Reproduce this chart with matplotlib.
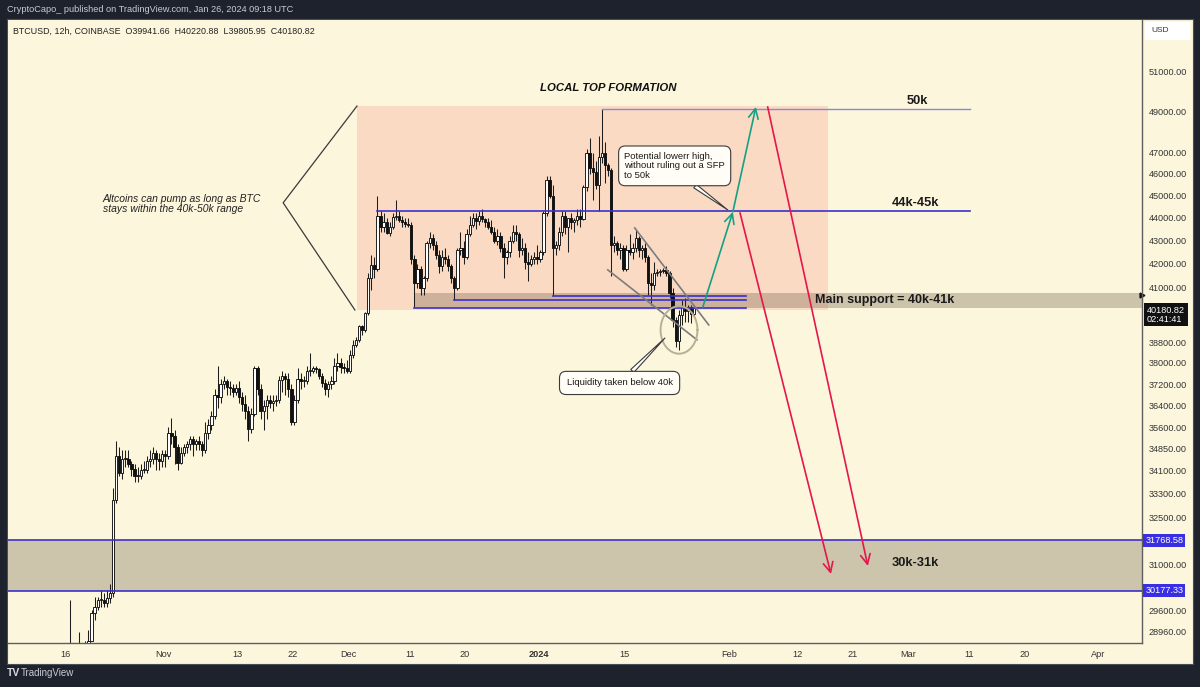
import matplotlib
matplotlib.use('Agg')
import matplotlib.pyplot as plt
import matplotlib.dates as mdates
from matplotlib.patches import Rectangle
from matplotlib.ticker import FixedLocator, NullLocator, FuncFormatter
import numpy as np
import pandas as pd

plt.rcParams['font.family'] = ['Liberation Sans', 'DejaVu Sans']

# BTCUSD 12h candles (thousands USD), 2023-10-16 00:00 .. 2024-01-26 00:00, two per day
opens = [
    # Oct 16 - 31
    27.15, 27.5, 28.5, 28.4, 28.4, 28.5, 28.3, 28.6, 28.7, 29.5, 29.7, 29.9, 29.9, 29.8, 29.95, 30.1,
    33.1, 34.6, 34.0, 34.5, 34.5, 34.3, 34.15, 33.9, 33.9, 34.1, 34.1, 34.4, 34.5, 34.7, 34.5, 34.4,
    # Nov
    34.65, 34.6, 35.4, 35.3, 34.9, 34.35, 34.7, 34.9, 35.0, 35.2, 35.0, 35.1, 35.0, 34.8, 35.4, 35.7,
    36.0, 36.8, 36.7, 37.2, 37.3, 37.1, 37.05, 36.9, 37.05, 36.7, 36.45, 36.2, 35.55, 36.1, 37.8, 37.0,
    36.2, 36.4, 36.6, 36.5, 36.55, 36.6, 37.35, 37.5, 37.4, 37.0, 35.8, 36.6, 37.4, 37.3, 37.3, 37.7,
    37.7, 37.8, 37.75, 37.5, 37.25, 37.0, 37.2, 37.3, 37.9, 38.0, 37.85, 37.8,
    # Dec
    37.7, 38.3, 38.7, 38.9, 39.45, 39.3, 39.95, 41.4, 41.95, 41.8, 44.1, 43.6, 43.8, 43.35, 43.6, 44.05,
    44.1, 43.9, 43.8, 43.75, 43.7, 42.2, 41.2, 41.8, 41.0, 41.4, 42.9, 43.1, 42.8, 42.4, 41.9, 42.3,
    42.2, 41.9, 41.4, 41.0, 42.6, 42.7, 42.3, 43.3, 43.7, 44.0, 43.85, 44.1, 43.95, 43.8, 43.6, 43.4,
    43.0, 43.2, 42.7, 42.3, 42.5, 43.0, 43.4, 43.3, 42.6, 42.7, 42.1, 42.0, 42.2, 42.3,
    # Jan
    42.2, 42.5, 44.2, 45.7, 45.0, 42.7, 42.8, 43.4, 44.1, 43.6, 44.0, 43.8, 43.9, 44.1, 43.95, 45.4,
    47.0, 46.3, 46.1, 45.5, 46.8, 47.0, 46.4, 46.2, 42.8, 42.9, 42.6, 42.7, 41.8, 42.6, 42.5, 42.7,
    43.1, 42.6, 42.7, 42.3, 41.2, 41.1, 41.6, 41.65, 41.7, 41.75, 41.6, 40.8, 39.7, 38.85, 39.9, 40.2,
    40.05, 40.2, 39.94166,
]
highs = [
    27.6, 29.9, 28.6, 28.6, 28.95, 28.6, 28.7, 29.0, 29.6, 30.0, 30.0, 30.2, 30.1, 30.2, 30.4, 33.5,
    35.1, 34.9, 34.8, 34.8, 34.8, 34.4, 34.3, 34.2, 34.3, 34.4, 34.6, 34.8, 34.9, 34.8, 34.7, 34.8,
    34.8, 35.6, 35.95, 35.5, 35.0, 34.9, 35.0, 35.1, 35.3, 35.3, 35.2, 35.3, 35.1, 35.8, 35.9, 36.2,
    37.0, 37.9, 37.4, 37.5, 37.4, 37.3, 37.2, 37.2, 37.3, 36.9, 36.8, 36.4, 36.3, 37.9, 37.9, 37.2,
    36.6, 36.8, 36.8, 36.8, 36.8, 37.5, 37.7, 37.6, 37.6, 37.2, 36.8, 37.8, 37.6, 37.5, 37.9, 38.4,
    37.9, 37.9, 37.8, 37.6, 37.4, 37.3, 37.5, 38.2, 38.4, 38.2, 38.0, 38.1,
    38.5, 38.9, 39.0, 39.5, 39.5, 40.0, 41.6, 42.4, 42.3, 45.0, 44.3, 44.2, 44.0, 43.8, 44.2, 44.8,
    44.3, 44.1, 44.0, 44.0, 43.8, 42.4, 42.0, 41.9, 41.5, 43.0, 43.4, 43.3, 43.0, 42.6, 42.6, 42.7,
    42.4, 42.0, 41.5, 42.7, 43.4, 43.0, 43.5, 44.1, 44.2, 44.2, 44.3, 44.4, 44.0, 44.0, 43.9, 43.6,
    43.5, 43.4, 42.9, 42.6, 43.2, 43.7, 43.7, 43.4, 43.1, 42.9, 42.5, 42.4, 42.5, 42.8,
    42.6, 44.3, 45.9, 45.9, 45.5, 43.0, 43.6, 44.3, 44.3, 44.0, 44.2, 44.0, 44.4, 44.4, 45.5, 47.2,
    47.7, 47.0, 46.6, 47.8, 49.1, 47.5, 46.5, 46.3, 43.2, 43.0, 42.9, 42.8, 42.8, 43.3, 42.9, 43.5,
    43.2, 42.8, 42.9, 42.4, 41.6, 42.1, 41.8, 41.8, 41.85, 41.9, 41.7, 41.0, 39.8, 40.1, 40.5, 40.6,
    40.3, 40.3, 40.22088,
]
lows = [
    27.1, 27.4, 28.1, 28.2, 28.3, 28.1, 28.2, 28.5, 28.7, 29.3, 29.6, 29.7, 29.7, 29.7, 29.8, 30.0,
    33.0, 33.9, 33.8, 34.2, 34.2, 33.9, 33.7, 33.7, 33.8, 34.0, 34.0, 34.2, 34.3, 34.1, 34.1, 34.2,
    34.2, 34.5, 35.0, 34.3, 34.1, 34.3, 34.6, 34.7, 34.8, 34.6, 34.8, 34.8, 34.6, 34.7, 35.2, 35.5,
    35.9, 36.3, 36.5, 37.0, 36.8, 36.8, 36.7, 36.8, 36.5, 36.2, 35.9, 35.1, 35.4, 36.0, 36.8, 35.9,
    35.5, 35.9, 36.3, 36.2, 36.4, 36.5, 36.9, 36.8, 36.7, 35.7, 35.7, 36.5, 37.0, 37.1, 37.2, 37.5,
    37.6, 37.6, 37.4, 37.1, 36.8, 36.7, 37.0, 37.2, 37.7, 37.6, 37.6, 37.6,
    37.6, 38.2, 38.6, 38.8, 39.1, 39.2, 39.9, 40.9, 41.4, 41.7, 43.4, 43.4, 43.3, 43.2, 43.5, 43.9,
    43.8, 43.6, 43.6, 43.6, 42.0, 40.2, 41.0, 40.7, 40.7, 41.3, 42.7, 42.6, 42.2, 41.6, 41.7, 42.0,
    41.7, 41.2, 40.5, 40.9, 42.4, 42.0, 42.2, 43.2, 43.6, 43.5, 43.7, 43.8, 43.6, 43.5, 43.3, 42.9,
    42.8, 42.5, 41.4, 42.0, 42.3, 42.9, 43.0, 42.3, 42.4, 41.8, 41.3, 41.9, 42.0, 42.0,
    42.1, 42.4, 44.1, 44.9, 40.65, 42.4, 42.6, 43.2, 43.3, 42.5, 43.5, 43.4, 43.7, 43.6, 43.9, 45.2,
    46.0, 44.8, 45.3, 44.3, 46.5, 45.6, 45.9, 41.5, 42.5, 42.4, 42.2, 41.7, 41.7, 42.4, 42.2, 42.5,
    42.3, 42.2, 42.1, 40.7, 40.3, 40.9, 41.5, 41.5, 41.6, 41.5, 40.6, 39.4, 38.6, 38.5, 39.5, 39.6,
    39.6, 39.55, 39.80595,
]
closes = [
    27.5, 28.5, 28.4, 28.4, 28.5, 28.3, 28.6, 28.7, 29.5, 29.7, 29.9, 29.9, 29.8, 29.95, 30.1, 33.1,
    34.6, 34.0, 34.5, 34.5, 34.3, 34.15, 33.9, 33.9, 34.1, 34.1, 34.4, 34.5, 34.7, 34.5, 34.4, 34.65,
    34.6, 35.4, 35.3, 34.9, 34.35, 34.7, 34.9, 35.0, 35.2, 35.0, 35.1, 35.0, 34.8, 35.4, 35.7, 36.0,
    36.8, 36.7, 37.2, 37.3, 37.1, 37.05, 36.9, 37.05, 36.7, 36.45, 36.2, 35.55, 36.1, 37.8, 37.0, 36.2,
    36.4, 36.6, 36.5, 36.55, 36.6, 37.35, 37.5, 37.4, 37.0, 35.8, 36.6, 37.4, 37.3, 37.3, 37.7, 37.7,
    37.8, 37.75, 37.5, 37.25, 37.0, 37.2, 37.3, 37.9, 38.0, 37.85, 37.8, 37.7,
    38.3, 38.7, 38.9, 39.45, 39.3, 39.95, 41.4, 41.95, 41.8, 44.1, 43.6, 43.8, 43.35, 43.6, 44.05, 44.1,
    43.9, 43.8, 43.75, 43.7, 42.2, 41.2, 41.8, 41.0, 41.4, 42.9, 43.1, 42.8, 42.4, 41.9, 42.3, 42.2,
    41.9, 41.4, 41.0, 42.6, 42.7, 42.3, 43.3, 43.7, 44.0, 43.85, 44.1, 43.95, 43.8, 43.6, 43.4, 43.0,
    43.2, 42.7, 42.3, 42.5, 43.0, 43.4, 43.3, 42.6, 42.7, 42.1, 42.0, 42.2, 42.3, 42.2,
    42.5, 44.2, 45.7, 45.0, 42.7, 42.8, 43.4, 44.1, 43.6, 44.0, 43.8, 43.9, 44.1, 43.95, 45.4, 47.0,
    46.3, 46.1, 45.5, 46.8, 47.0, 46.4, 46.2, 42.8, 42.9, 42.6, 42.7, 41.8, 42.6, 42.5, 42.7, 43.1,
    42.6, 42.7, 42.3, 41.2, 41.1, 41.6, 41.65, 41.7, 41.75, 41.6, 40.8, 39.7, 38.85, 39.9, 40.2, 40.05,
    40.2, 39.94, 40.18082,
]

price_ticks = [51000, 49000, 47000, 46000, 45000, 44000, 43000, 42000, 41000, 38800, 38000,
               37200, 36400, 35600, 34850, 34100, 33300, 32500, 31000, 29600, 28960]
date_ticks = ['2023-10-16', '2023-11-01', '2023-11-13', '2023-11-22', '2023-12-01', '2023-12-11',
              '2023-12-20', '2024-01-01', '2024-01-15', '2024-02-01', '2024-02-12', '2024-02-21',
              '2024-03-01', '2024-03-11', '2024-03-20', '2024-04-01']
date_labels = ['16', 'Nov', '13', '22', 'Dec', '11', '20', '2024', '15', 'Feb', '12', '21',
               'Mar', '11', '20', 'Apr']

# drawn levels / zones (USD)
zone_low, zone_high = 30177.33, 31768.58
support_low, support_high = 40190, 40790
level_50k, level_44k = 49130, 44300
support_lines = [('2024-01-03 06:00', 40650), ('2023-12-18 06:00', 40500), ('2023-12-11 18:00', 40190)]

CREAM = '#fcf6dc'
BLUE = '#3b30c9'
RED = '#e3174b'
GREEN = '#15a083'
DARK = '#1e222d'


def d(s):
    return mdates.date2num(pd.Timestamp(s))


times = pd.date_range('2023-10-16 06:00', periods=len(closes), freq='12h')
x = mdates.date2num(times)
o = np.array(opens) * 1000
h = np.array(highs) * 1000
l = np.array(lows) * 1000
c = np.array(closes) * 1000

fig = plt.figure(figsize=(12, 6.87), dpi=100, facecolor=DARK)
bg = fig.add_axes([7 / 1200, 23 / 687, 1186 / 1200, 645 / 687], zorder=-5)
bg.set_facecolor(CREAM)
bg.set_xticks([])
bg.set_yticks([])
for s in bg.spines.values():
    s.set_color('#4a4d57')
    s.set_linewidth(0.8)

ax = fig.add_axes([8 / 1200, 44 / 687, 1134 / 1200, 623 / 687])
ax.set_facecolor(CREAM)
ax.set_yscale('log')
xl, xr = d('2023-10-06 16:00'), d('2024-04-08 02:00')
ax.set_xlim(xl, xr)
ax.set_ylim(28630, 53750)

# zones
ax.add_patch(Rectangle((d('2023-12-02 10:00'), 40090), d('2024-02-17') - d('2023-12-02 10:00'),
                       49270 - 40090, fc='#fbd6bf', ec='none', alpha=0.85, zorder=0.5))
ax.axhspan(zone_low, zone_high, fc=(0.47, 0.43, 0.35, 0.36), ec='none', zorder=0.6)
ax.axhline(zone_low, color=BLUE, lw=1.2, zorder=4)
ax.axhline(zone_high, color=BLUE, lw=1.2, zorder=4)
ax.add_patch(Rectangle((d('2023-12-11 18:00'), support_low), xr - d('2023-12-11 18:00'),
                       support_high - support_low, fc=(0.47, 0.40, 0.32, 0.35), ec='none', zorder=0.6))

# candles
up = c >= o
ax.vlines(x, l, h, color='#1e1e1e', lw=0.75, zorder=2)
body_lo = np.minimum(o, c)
body_h = np.maximum(np.abs(c - o), c * 0.0009)
ax.bar(x, body_h, bottom=body_lo, width=0.38, color=np.where(up, '#ffffff', '#111111'),
       edgecolor='#111111', linewidth=0.65, zorder=3)

# levels
ax.plot([d('2024-01-11 06:00'), d('2024-03-11 02:00')], [level_50k, level_50k], color='#8d86d8', lw=1.0, zorder=4)
ax.plot([d('2023-12-05 18:00'), d('2024-03-11 02:00')], [level_44k, level_44k], color=BLUE, lw=1.2, zorder=4)
for start, p in support_lines:
    ax.plot([d(start), d('2024-02-03 17:00')], [p, p], color=BLUE, lw=1.2, zorder=4)

# text labels
lab = dict(fontsize=9.3, fontweight='bold', color='#1a1a1a', zorder=6)
ax.text(d('2024-03-02 14:00'), 49530, '50k', ha='center', va='center', **lab)
ax.text(d('2024-03-02 07:00'), 44680, '44k-45k', ha='center', va='center', **lab)
ax.text(d('2024-02-14 22:00'), 40480, 'Main support = 40k-41k', ha='left', va='center',
        fontsize=9, fontweight='bold', color='#1a1a1a', zorder=6)
ax.text(d('2024-03-02 07:00'), 31040, '30k-31k', ha='center', va='center', **lab)
ax.text(d('2024-01-12 05:00'), 50180, 'LOCAL TOP FORMATION', ha='center', va='center',
        fontsize=8.2, fontweight='bold', fontstyle='italic', color='#111111')
ax.text(d('2023-10-22 02:00'), 44630, 'Altcoins can pump as long as BTC\nstays within the 40k-50k range',
        ha='left', va='center', fontsize=7.5, fontstyle='italic', color='#222222', linespacing=1.0)

# chevron bracket
ax.plot([d('2023-12-02 10:00'), d('2023-11-20 10:00'), d('2023-12-02 02:00')], [49270, 44680, 40090],
        color='#3a3a3a', lw=0.9, zorder=4)

# descending channel
ax.plot([d('2024-01-16 14:00'), d('2024-01-28 15:00')], [43560, 39490], color='#7c7c7c', lw=1.2, zorder=4)
ax.plot([d('2024-01-12 05:00'), d('2024-01-26 17:00')], [41750, 38900], color='#7c7c7c', lw=1.2, zorder=4)

# ellipse round the wick
tt = np.linspace(0, 2 * np.pi, 120)
ax.plot(d('2024-01-23 19:00') + 3.0 * np.cos(tt), 39290 * np.exp(0.0240 * np.sin(tt)),
        color='#b8b096', lw=1.4, zorder=4)


# arrows
def arrow(p0, p1, color):
    ax.annotate('', xy=(d(p1[0]), p1[1]), xytext=(d(p0[0]), p0[1]),
                arrowprops=dict(arrowstyle='->,head_length=0.7,head_width=0.35', color=color, lw=1.2,
                                shrinkA=0, shrinkB=0), zorder=5)


arrow(('2024-01-27 16:00', 40210), ('2024-02-01 13:00', 44270), GREEN)
arrow(('2024-02-01 13:00', 44270), ('2024-02-05 07:00', 49230), GREEN)
arrow(('2024-02-02 17:00', 44230), ('2024-02-17 12:00', 30700), RED)
arrow(('2024-02-07 05:00', 49230), ('2024-02-23 12:00', 30950), RED)

# callouts
box = dict(boxstyle='round,pad=0.6,rounding_size=0.7', fc='#fffdf6', ec='#3a3a3a', lw=0.8)
wedge = dict(arrowstyle='wedge,tail_width=0.45,shrink_factor=0.5', fc='#fffdf6', ec='#3a3a3a', lw=0.8,
             shrinkA=0, shrinkB=0)
ax.annotate('Potential lowerr high,\nwithout ruling out a SFP\nto 50k', xy=(d('2024-01-31 17:00'), 44360),
            xytext=(d('2024-01-23 02:00'), 46380), ha='center', va='center', multialignment='left',
            fontsize=6.8, color='#1a1a1a', bbox=box, arrowprops=dict(wedge, relpos=(0.62, 0.0)),
            zorder=7, linespacing=1.1)
box2 = dict(box, boxstyle='round,pad=0.75,rounding_size=0.7')
ax.annotate('Liquidity taken below 40k', xy=(d('2024-01-21 12:00'), 38970),
            xytext=(d('2024-01-14 03:00'), 37240), ha='center', va='center',
            fontsize=6.8, color='#1a1a1a', bbox=box2, arrowprops=dict(wedge, relpos=(0.55, 1.0)), zorder=7)

# axes styling
for s in ('left', 'top'):
    ax.spines[s].set_visible(False)
for s in ('right', 'bottom'):
    ax.spines[s].set_color('#5e5e5e')
    ax.spines[s].set_linewidth(1.0)
ax.yaxis.tick_right()
ax.yaxis.set_major_locator(FixedLocator(price_ticks))
ax.yaxis.set_minor_locator(NullLocator())
ax.yaxis.set_major_formatter(FuncFormatter(lambda v, pos: f'{v:.2f}'))
ax.tick_params(axis='y', length=0, pad=5, labelsize=6.6, labelcolor='#333333')
ax.set_xticks([d(t) for t in date_ticks])
ax.set_xticklabels(date_labels)
ax.tick_params(axis='x', length=0, pad=5, labelsize=6.6, labelcolor='#333333')
ax.get_xticklabels()[date_labels.index('2024')].set_fontweight('bold')

# price-scale labels
ytr = ax.get_yaxis_transform()
for p, txt in [(zone_high, '31768.58'), (zone_low, '30177.33')]:
    ax.text(1.003, p, txt, transform=ytr, ha='left', va='center', fontsize=6.6, color='white',
            bbox=dict(boxstyle='square,pad=0.22', fc='#3a2fe0', ec='none'), clip_on=False, zorder=8)
ax.annotate('40180.82\n02:41:41', xy=(1.002, 40180.82), xycoords=ytr, xytext=(2, -5),
            textcoords='offset points', ha='left', va='center', fontsize=6.6, color='white',
            linespacing=1.05, bbox=dict(boxstyle='square,pad=0.28', fc='#111111', ec='none'),
            annotation_clip=False, zorder=8)
ax.plot([1.0], [support_high * 0.998], marker='>', ms=3.5, color='#111111', transform=ytr, clip_on=False)
ax.add_patch(Rectangle((1.0026, 0.968), 45 / 1134, 18 / 623, transform=ax.transAxes, fc='white',
                       ec='none', clip_on=False))
ax.text(1.0026 + 6 / 1134, 0.9825, 'USD', transform=ax.transAxes, ha='left', va='center',
        fontsize=6, color='#333333')

ax.text(5 / 1134, 0.982, 'BTCUSD, 12h, COINBASE  O39941.66  H40220.88  L39805.95  C40180.82',
        transform=ax.transAxes, ha='left', va='center', fontsize=6.4, color='#222222')

fig.text(7 / 1200, 1 - 10 / 687, 'CryptoCapo_ published on TradingView.com, Jan 26, 2024 09:18 UTC',
         ha='left', va='center', fontsize=6.6, color='#c9ccd4')
fig.text(7 / 1200, 1 - 673 / 687, 'TV', ha='left', va='center', fontsize=7.5, fontweight='bold',
         color='#d8dae0')
fig.text(21 / 1200, 1 - 673 / 687, 'TradingView', ha='left', va='center', fontsize=7, color='#c9ccd4')

fig.savefig('out.png', dpi=100, facecolor=DARK)
